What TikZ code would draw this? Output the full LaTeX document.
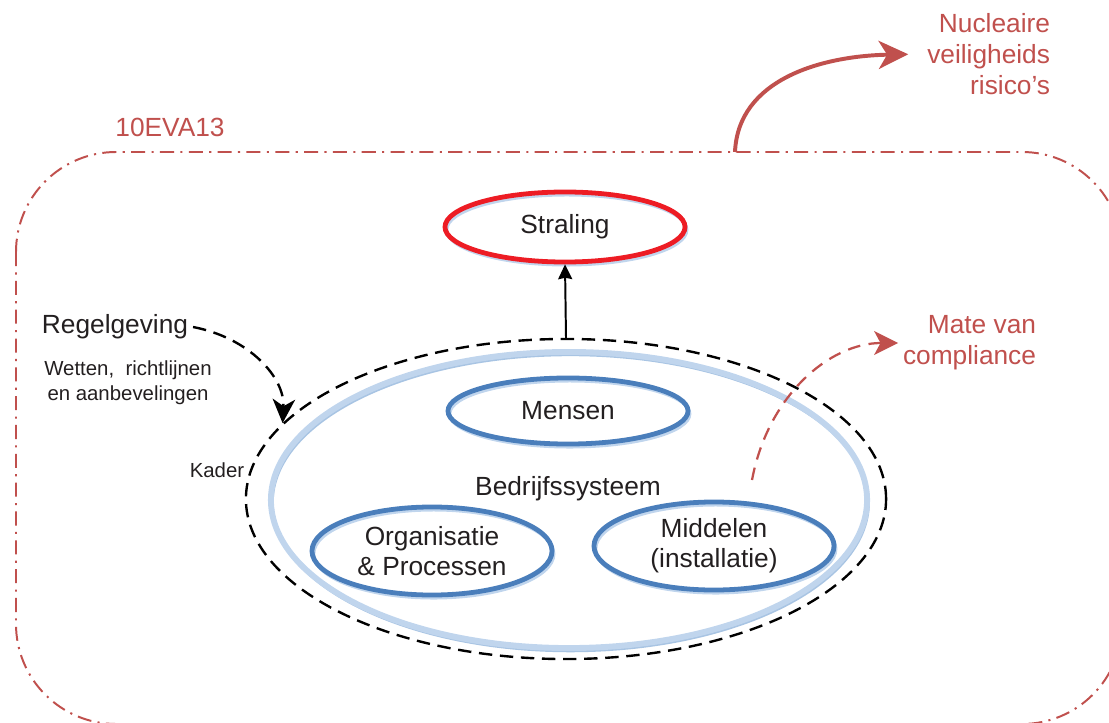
\documentclass[tikz,border=0pt]{standalone}
\usepackage{fontspec}
\setmainfont{Liberation Sans}
\usetikzlibrary{arrows.meta,shapes.geometric,positioning}
\definecolor{riskred}{HTML}{C0504D}
\definecolor{alarmred}{HTML}{ED1C24}
\definecolor{sysblue}{HTML}{4A7EBB}
\definecolor{paleblue}{HTML}{C0D5ED}
\definecolor{inkgray}{HTML}{231F20}

\begin{document}
\begin{tikzpicture}[
      x=0.025cm, y=-0.025cm,
      label text/.style={
         font=\fontsize{18.7}{21.5}\selectfont,
         text=inkgray,
         align=center
      },
      small text/.style={
         font=\fontsize{14.5}{18}\selectfont,
         text=inkgray,
         align=center
      },
      red text/.style={
         font=\fontsize{18.7}{21.8}\selectfont,
         text=riskred,
         align=right
      },
      blob/.style={
         ellipse,
         inner sep=0pt,
         minimum width=6cm,
         minimum height=2.2cm,
         line width=3.4pt,
         draw=sysblue,
         preaction={draw=paleblue, line width=2.4pt,
           transform canvas={xshift=1.2pt,yshift=-2pt}},
         label text
      },
      hazard/.style={
         blob,
         draw=alarmred,
         minimum height=1.75cm
      },
      system ring/.style={
         ellipse,
         minimum width=14.9cm,
         minimum height=7.4cm,
         draw=paleblue,
         line width=4.2pt,
         preaction={draw=paleblue!80!sysblue, line width=2pt,
           transform canvas={xshift=1pt,yshift=-2pt}}
      },
      frame ring/.style={
         ellipse,
         minimum width=16cm,
         minimum height=8cm,
         draw=black,
         line width=1.7pt,
         dash pattern=on 9.5pt off 5.5pt
      },
      frame/.style={
         draw=riskred,
         line width=1.4pt,
         rounded corners=2.5cm,
         dash pattern=on 10pt off 4.5pt on 1.5pt off 4.5pt
      },
      up arrow/.style={-{Stealth[length=10.5pt,width=10pt,inset=1pt]}, line width=1.4pt},
      risk arrow/.style={-{Stealth[length=21pt,width=20pt,inset=6pt]},
         draw=riskred, line width=2.8pt},
      compliance arrow/.style={-{Stealth[length=17pt,width=17pt,inset=4.5pt]},
         draw=riskred, line width=1.6pt, dash pattern=on 9pt off 6pt},
      rule arrow/.style={-{Stealth[length=17pt,width=16pt,inset=5pt]},
         draw=black, line width=1.7pt, dash pattern=on 9.5pt off 5.5pt}
    ]
    \useasboundingbox (0,0) rectangle (1109,722);
    \clip (0,0) rectangle (1109,722);

    % outer boundary
    \draw[frame] (16,152) rectangle (1122,724);
    \node[red text] (eva) at (170,127) {10EVA13};
    \node[red text, anchor=east] (risk) at (1055,54) {Nucleaire\\veiligheids\\risico’s};

    % system and its parts
    \node[frame ring] (kaderring) at (566,499) {};
    \node[system ring] (systeem) at (569,500) {};
    \node[hazard] (straling) at (565,227) {Straling};
    \node[blob, minimum height=1.65cm] (mensen) at (568,411) {Mensen};
    \node[label text] (bedrijf) at (568,489) {Bedrijfssysteem};
    \node[blob] (organisatie) at (432,551) {Organisatie\\\& Processen};
    \node[blob] (middelen) at (714,546) {Middelen\\(installatie)};

    % left side texts
    \node[label text] (regel) at (115,327) {Regelgeving};
    \node[small text] (wetten) at (128,383) {Wetten,\ \ richtlijnen\\en aanbevelingen};
    \node[small text] (kader) at (217,470) {Kader};
    \node[red text, anchor=east] (mate) at (1041,343) {Mate van\\compliance};

    \coordinate (grens) at (735,152);
    \coordinate (meetpunt) at (752,480);

    % connectors
    \draw[up arrow] (kaderring.north) -- (straling.south);
    \draw[rule arrow] (regel.east) .. controls (250,338) and (285,378) .. (kaderring.165);
    \draw[risk arrow, shorten >=10pt] (grens) .. controls (738,80) and (820,56) .. (risk.west);
    \draw[compliance arrow] (meetpunt) .. controls (768,395) and (830,343) .. (mate.west);
\end{tikzpicture}
\end{document}
